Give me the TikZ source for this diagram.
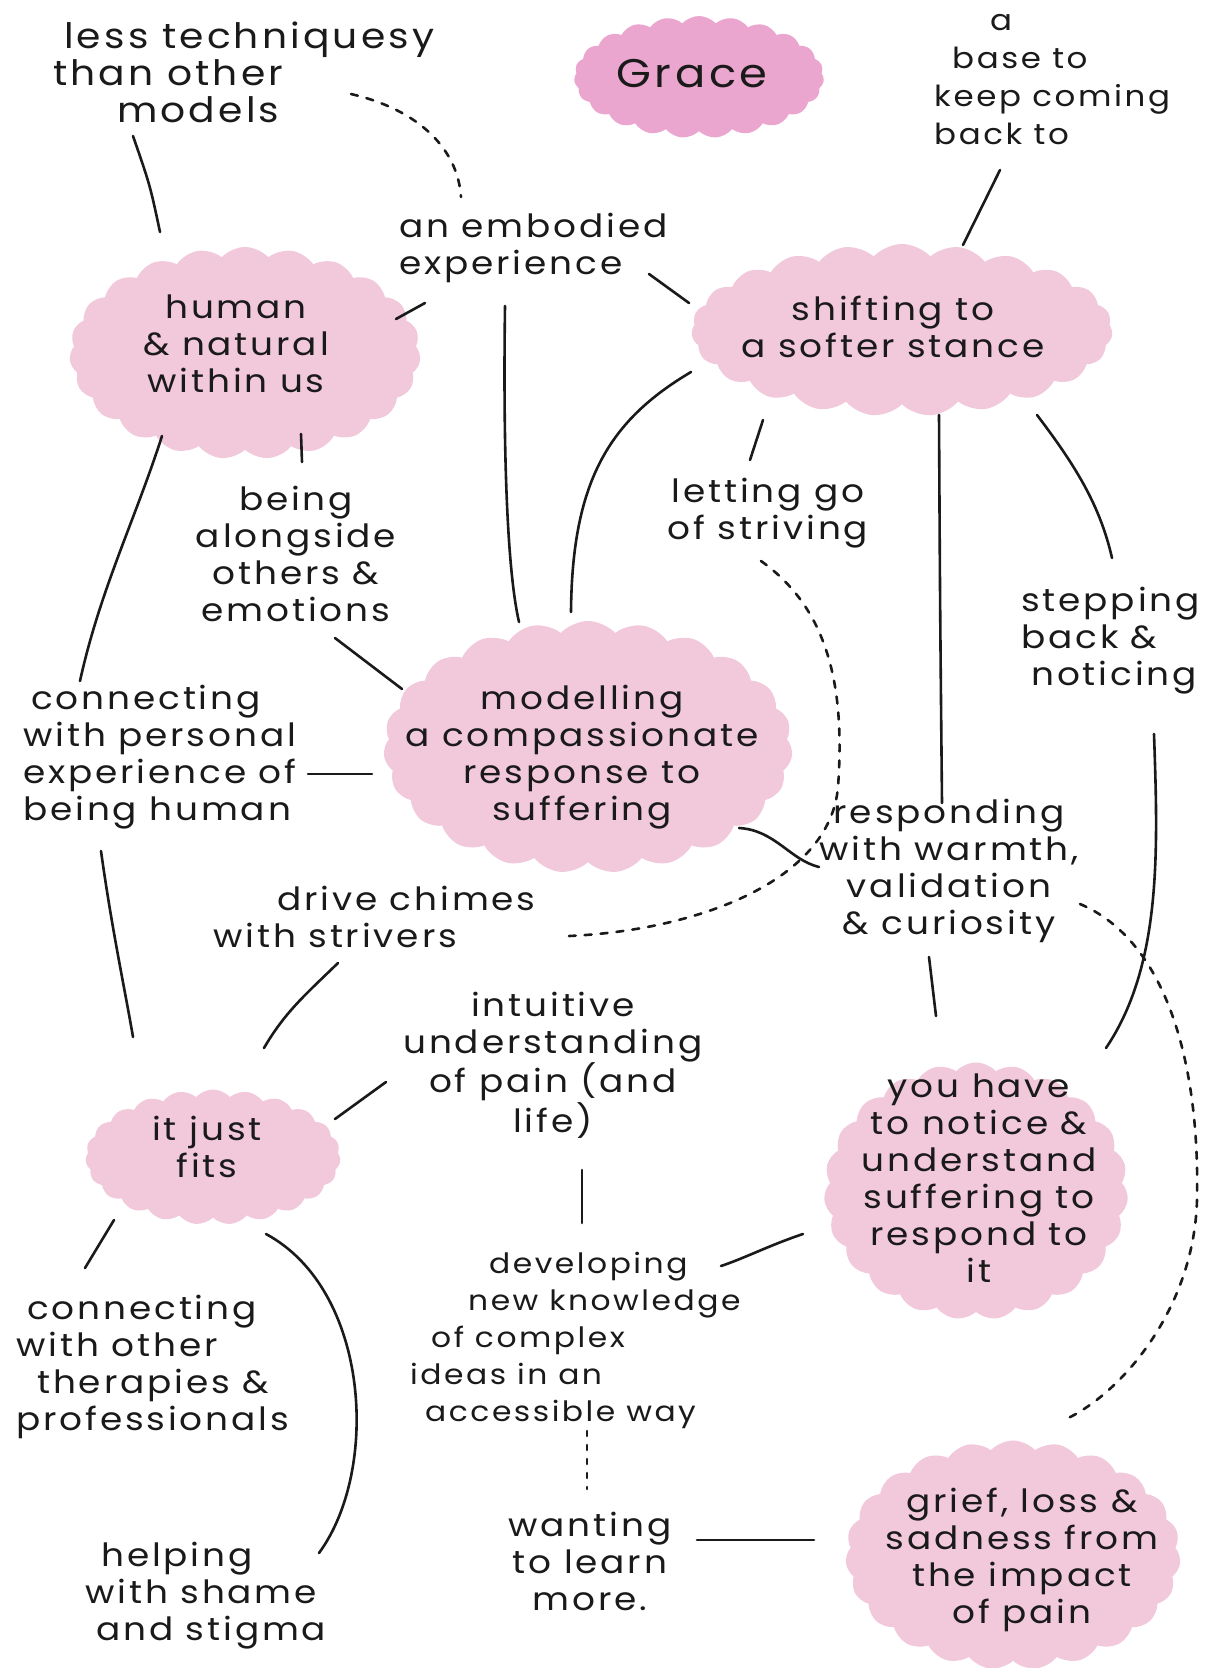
\documentclass[tikz,border=0pt]{standalone}
\usepackage{fontspec}
\setmainfont{Poppins}[FakeStretch=1.12, LetterSpace=9]
\usetikzlibrary{shapes.symbols}

\definecolor{blush}{HTML}{F2C8DB}
\definecolor{rose}{HTML}{EAA6CE}
\definecolor{ink}{HTML}{1A1A1A}

\tikzset{
  blob/.style={cloud, cloud puffs=23, cloud puff arc=95, fill=blush, draw=none, inner sep=0pt},
  txt/.style={font=\fontsize{32}{37}\selectfont, align=center, inner sep=0pt, text=ink},
  ltxt/.style={txt, align=left, anchor=west},
  link/.style={line width=2.6pt, line cap=round, draw=ink},
  dlink/.style={link, dash pattern=on 7pt off 9pt},
  dotlink/.style={link, dash pattern=on 5pt off 9pt}
}

\begin{document}
\begin{tikzpicture}[x=1pt, y=-1pt]
\useasboundingbox (0,0) rectangle (1220,1668);
\fill[white] (0,0) rectangle (1220,1668);

% pink clouds
\node[blob, fill=rose, minimum width=250pt, minimum height=122pt] (grace-bg) at (699,77) {};
\node[blob, minimum width=351pt, minimum height=212pt] (human-bg) at (245,353) {};
\node[blob, minimum width=421pt, minimum height=172pt] (shift-bg) at (902,330) {};
\node[blob, minimum width=409pt, minimum height=252pt] (model-bg) at (588,747) {};
\node[blob, minimum width=255pt, minimum height=135pt] (fits-bg) at (213,1157) {};
\node[blob, minimum width=304pt, minimum height=257pt] (notice-bg) at (976,1191) {};
\node[blob, minimum width=335pt, minimum height=229pt] (grief-bg) at (1013,1555) {};

% cloud texts
\node[txt, font=\fontsize{40}{44}\selectfont] (grace) at (692,74) {Grace};
\node[txt] (human) at (236,344) {human\\\& natural\\within us};
\node[txt] (shift) at (893,327) {shifting to\\a softer stance};
\node[txt] (model) at (582,757) {modelling\\a compassionate\\response to\\suffering};
\node[txt] (fits) at (207,1147) {it just\\fits};
\node[txt] (notice) at (979,1178) {you have\\to notice \&\\understand\\suffering to\\respond to\\it};
\node[txt] (grief) at (1022,1560) {grief, loss \&\\sadness from\\the impact\\of pain};

% free texts
\node[ltxt, font=\fontsize{35}{37}\selectfont] (less) at (53,72) {\hspace*{11pt}less techniquesy\\than other\\\hspace*{64pt}models};
\node[ltxt, font=\fontsize{29}{38}\selectfont] (base) at (934,80) {\hspace*{56pt}a\\\hspace*{18pt}base to\\keep coming\\back to};
\node[ltxt] (embodied) at (399,248) {an embodied\\experience};
\node[txt] (being) at (296,554) {being\\alongside\\others \&\\emotions};
\node[txt] (letting) at (768,513) {letting go\\of striving};
\node[ltxt] (stepping) at (1021,641) {stepping\\back \&\\\hspace*{10pt}noticing};
\node[ltxt] (personal) at (23,757) {\hspace*{8pt}connecting\\with personal\\experience of\\being human};
\node[txt] (warmth) at (949,871) {responding\\with warmth,\\validation\\\& curiosity};
\node[ltxt] (drive) at (213,917) {\hspace*{64pt}drive chimes\\with strivers};
\node[txt] (intuitive) at (553,1065) {intuitive\\understanding\\of pain (and\\life)};
\node[ltxt, font=\fontsize{28}{37}\selectfont] (developing) at (410,1340) {\hspace*{79pt}developing\\\hspace*{58pt}new knowledge\\\hspace*{21pt}of complex\\ideas in an\\\hspace*{15pt}accessible way};
\node[ltxt] (others) at (16,1367) {\hspace*{11pt}connecting\\with other\\\hspace*{21pt}therapies \&\\professionals};
\node[ltxt] (shame) at (85,1596) {\hspace*{16pt}helping\\with shame\\\hspace*{11pt}and stigma};
\node[txt] (wanting) at (590,1561) {wanting\\to learn\\more.};

% connector ends
\path (133,136) coordinate (less-s)    (160,232) coordinate (human-n)
      (351,94)  coordinate (less-e)    (461,197) coordinate (embodied-n)
      (396,319) coordinate (human-ne)  (425,303) coordinate (embodied-sw)
      (505,306) coordinate (embodied-s)(519,622) coordinate (model-n)
      (649,274) coordinate (embodied-e)(689,303) coordinate (shift-w)
      (1000,170) coordinate (base-s)   (963,245) coordinate (shift-n)
      (301,434) coordinate (human-s)   (302,462) coordinate (being-n)
      (162,436) coordinate (human-sw)  (80,681)  coordinate (personal-n)
      (335,638) coordinate (being-s)   (402,689) coordinate (model-nw)
      (308,774) coordinate (personal-e)(372,774) coordinate (model-w)
      (691,372) coordinate (shift-sw)  (571,612) coordinate (model-ne)
      (763,420) coordinate (shift-s1)  (750,460) coordinate (letting-n)
      (939,415) coordinate (shift-s2)  (942,803) coordinate (warmth-n)
      (1037,415) coordinate (shift-se) (1112,558) coordinate (stepping-n)
      (761,561) coordinate (letting-s) (569,936) coordinate (drive-e)
      (739,828) coordinate (model-se)  (819,867) coordinate (warmth-w)
      (1154,734) coordinate (stepping-s)(1106,1048) coordinate (notice-ne)
      (929,957) coordinate (warmth-s)  (936,1016) coordinate (notice-n)
      (1080,904) coordinate (warmth-e) (1064,1420) coordinate (grief-n)
      (101,851) coordinate (personal-s)(133,1037) coordinate (fits-n)
      (338,963) coordinate (drive-s)   (264,1048) coordinate (fits-ne)
      (386,1082) coordinate (intuitive-w)(335,1119) coordinate (fits-e)
      (582,1170) coordinate (intuitive-s)(582,1223) coordinate (developing-n)
      (803,1234) coordinate (notice-w) (721,1266) coordinate (developing-e)
      (114,1220) coordinate (fits-sw)  (85,1268) coordinate (others-n)
      (266,1234) coordinate (fits-se)  (319,1553) coordinate (shame-ne)
      (587,1431) coordinate (developing-s)(587,1489) coordinate (wanting-n)
      (697,1540) coordinate (wanting-e)(814,1540) coordinate (grief-w);

% solid connectors
\draw[link] (less-s) .. controls (150,185) .. (human-n);
\draw[link] (human-ne) -- (embodied-sw);
\draw[link] (embodied-s) .. controls (503,450) and (507,570) .. (model-n);
\draw[link] (embodied-e) -- (shift-w);
\draw[link] (base-s) -- (shift-n);
\draw[link] (human-s) -- (being-n);
\draw[link] (human-sw) .. controls (135,520) and (100,590) .. (personal-n);
\draw[link] (being-s) -- (model-nw);
\draw[link] (personal-e) -- (model-w);
\draw[link] (shift-sw) .. controls (610,420) and (572,480) .. (model-ne);
\draw[link] (shift-s1) -- (letting-n);
\draw[link] (shift-s2) .. controls (940,600) .. (warmth-n);
\draw[link] (shift-se) .. controls (1075,465) and (1100,505) .. (stepping-n);
\draw[link] (model-se) .. controls (775,830) and (790,860) .. (warmth-w);
\draw[link] (stepping-s) .. controls (1158,850) and (1162,965) .. (notice-ne);
\draw[link] (warmth-s) -- (notice-n);
\draw[link] (personal-s) .. controls (112,930) and (125,990) .. (fits-n);
\draw[link] (drive-s) .. controls (305,995) and (285,1012) .. (fits-ne);
\draw[link] (intuitive-w) -- (fits-e);
\draw[link] (intuitive-s) -- (developing-n);
\draw[link] (notice-w) .. controls (770,1245) and (745,1258) .. (developing-e);
\draw[link] (fits-sw) -- (others-n);
\draw[link] (fits-se) .. controls (370,1290) and (380,1470) .. (shame-ne);
\draw[link] (wanting-e) -- (grief-w);

% dashed connectors
\draw[dlink] (less-e) .. controls (420,110) and (458,150) .. (embodied-n);
\draw[dlink] (letting-s) .. controls (830,610) and (845,690) .. (838,787)
             .. controls (830,880) and (700,930) .. (drive-e);
\draw[dlink] (warmth-e) .. controls (1165,940) and (1200,1060) .. (1197,1200)
             .. controls (1194,1310) and (1120,1395) .. (grief-n);
\draw[dotlink] (developing-s) -- (wanting-n);
\end{tikzpicture}
\end{document}
